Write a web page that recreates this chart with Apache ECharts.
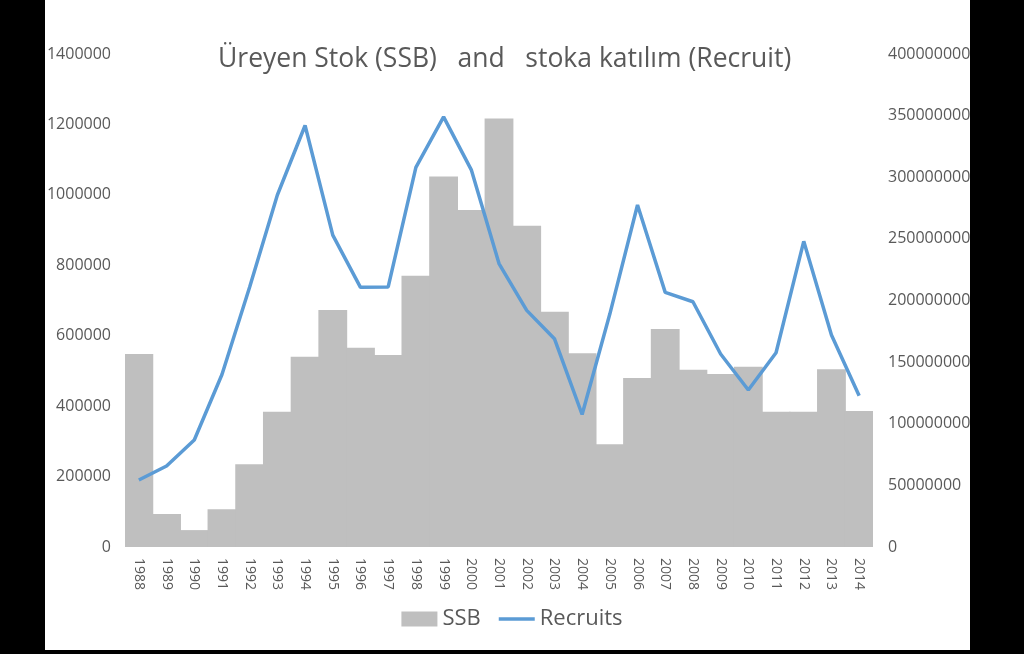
<!DOCTYPE html>
<html>
<head>
<meta charset="utf-8">
<script src="https://cdn.jsdelivr.net/npm/echarts@6/dist/echarts.min.js"></script>
<style>
html,body{margin:0;padding:0;background:#000;}
#bg{position:absolute;left:45px;top:0;width:925px;height:650px;background:#fff;}
#chart{position:absolute;left:0;top:0;width:1024px;height:654px;}
</style>
</head>
<body>
<div id="bg"></div>
<div id="chart"></div>
<script>
const years = ['1988','1989','1990','1991','1992','1993','1994','1995','1996','1997','1998','1999','2000','2001','2002','2003','2004','2005','2006','2007','2008','2009','2010','2011','2012','2013','2014'];
const ssb = [548000,94000,48000,107000,235000,384000,540000,673000,566000,545000,770000,1052000,957000,1217000,912000,668000,550000,292000,480000,619000,503000,491000,512000,384000,384000,505000,386000];
const recruits = [54400000,65700000,86800000,140000000,211000000,285600000,342000000,253000000,210700000,211000000,308000000,349000000,306000000,230000000,192000000,169000000,107500000,189000000,277500000,206600000,199000000,156600000,127400000,157600000,248000000,172000000,122800000];
const titleText = 'Üreyen Stok (SSB)   and   stoka katılım (Recruit)';

const font = 'Open Sans';
const txt = '#595959';
const plain = v => String(v);
const chart = echarts.init(document.getElementById('chart'));
chart.setOption({
  backgroundColor: 'transparent',
  animation: false,
  textStyle: {fontFamily: font},
  title: {
    text: titleText,
    left: 213,
    top: 41,
    textStyle: {fontFamily: font, fontSize: 26.5, fontWeight: 'normal', color: txt}
  },
  legend: {
    bottom: 19,
    left: 'center',
    itemGap: 18,
    itemWidth: 36,
    itemHeight: 15,
    textStyle: {fontFamily: font, fontSize: 22, color: txt},
    data: [
      {name: 'SSB', icon: 'rect'},
      {name: 'Recruits', icon: 'path://M0,0 L10,0 L10,1 L0,1 Z'}
    ]
  },
  grid: {left: 125, right: 151, top: 54, bottom: 107, containLabel: false},
  xAxis: {
    type: 'category',
    data: years,
    axisLine: {show: false},
    axisTick: {show: false},
    axisLabel: {rotate: -90, color: txt, fontSize: 14, margin: 11, interval: 0, fontFamily: font}
  },
  yAxis: [
    {
      type: 'value', min: 0, max: 1400000, interval: 200000,
      splitLine: {show: false}, axisLine: {show: false}, axisTick: {show: false},
      axisLabel: {color: txt, fontSize: 16, margin: 14, fontFamily: font, formatter: plain}
    },
    {
      type: 'value', min: 0, max: 400000000, interval: 50000000,
      splitLine: {show: false}, axisLine: {show: false}, axisTick: {show: false},
      axisLabel: {color: txt, fontSize: 16, margin: 15, fontFamily: font, formatter: plain}
    }
  ],
  series: [
    {
      name: 'SSB', type: 'bar', data: ssb,
      barCategoryGap: '-4%',
      itemStyle: {color: '#BFBFBF'}
    },
    {
      name: 'Recruits', type: 'line', yAxisIndex: 1, data: recruits,
      showSymbol: false, symbol: 'none',
      lineStyle: {color: '#5B9BD5', width: 3.5},
      itemStyle: {color: '#5B9BD5'}
    }
  ]
});
</script>
</body>
</html>
